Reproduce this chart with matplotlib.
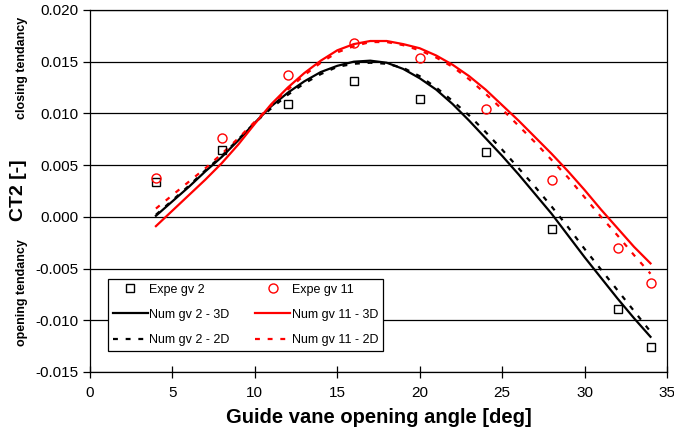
import numpy as np
import matplotlib
matplotlib.use("Agg")
import matplotlib.pyplot as plt

plt.rcParams['font.family'] = ['Liberation Sans', 'DejaVu Sans']

# experimental points
expe_x = [4, 8, 12, 16, 20, 24, 28, 32, 34]
expe_gv2 = [0.0034, 0.0065, 0.0109, 0.0131, 0.0114, 0.0063, -0.0012, -0.0089, -0.0126]
expe_gv11 = [0.0038, 0.0076, 0.0137, 0.0168, 0.0154, 0.0104, 0.0036, -0.0030, -0.0064]

# numerical curves
num_x = [4, 5, 6, 7, 8, 9, 10, 11, 12, 13, 14, 15, 16, 17, 18, 19, 20,
         21, 22, 23, 24, 25, 26, 27, 28, 29, 30, 31, 32, 33, 34]
num_gv2_3d = [0.0001, 0.0015, 0.0029, 0.0044, 0.0058, 0.0074, 0.0091, 0.0107,
              0.0120, 0.0131, 0.0140, 0.0146, 0.0150, 0.0151, 0.0149, 0.0143,
              0.0134, 0.0123, 0.0109, 0.0093, 0.0076, 0.0059, 0.0041, 0.0022,
              0.0003, -0.0018, -0.0039, -0.0059, -0.0079, -0.0098, -0.0116]
num_gv2_2d = [0.0002, 0.0016, 0.0030, 0.0045, 0.0059, 0.0075, 0.0091, 0.0105,
              0.0118, 0.0129, 0.0138, 0.0145, 0.0148, 0.0149, 0.0148, 0.0144,
              0.0136, 0.0125, 0.0112, 0.0098, 0.0082, 0.0065, 0.0047, 0.0029,
              0.0010, -0.0010, -0.0031, -0.0051, -0.0071, -0.0091, -0.0111]
num_gv11_3d = [-0.0009, 0.0006, 0.0021, 0.0036, 0.0052, 0.0070, 0.0090, 0.0109,
               0.0125, 0.0139, 0.0151, 0.0161, 0.0167, 0.0170, 0.0170, 0.0167,
               0.0163, 0.0156, 0.0147, 0.0136, 0.0123, 0.0108, 0.0093, 0.0077,
               0.0061, 0.0044, 0.0026, 0.0007, -0.0011, -0.0029, -0.0045]
num_gv11_2d = [0.0008, 0.0021, 0.0034, 0.0047, 0.0061, 0.0076, 0.0092, 0.0108,
               0.0123, 0.0137, 0.0149, 0.0159, 0.0165, 0.0169, 0.0169, 0.0166,
               0.0161, 0.0154, 0.0145, 0.0133, 0.0119, 0.0104, 0.0088, 0.0072,
               0.0055, 0.0038, 0.0019, 0.0000, -0.0018, -0.0037, -0.0055]

fig = plt.figure(figsize=(6.74, 4.34), dpi=100)
ax = fig.add_axes([0.1335, 0.1429, 0.8561, 0.8341])

for yv in np.arange(-0.015, 0.0201, 0.005):
    ax.axhline(yv, color='black', lw=0.9, zorder=1)

dash = (2.2, 3.5)
ax.plot(expe_x, expe_gv2, ls='none', marker='s', ms=6, mfc='none', mec='black',
        mew=1.0, label='Expe gv 2', zorder=4)
ax.plot(num_x, num_gv2_3d, color='black', lw=1.6, label='Num gv 2 - 3D', zorder=3)
ax.plot(num_x, num_gv2_2d, color='black', lw=1.6, dashes=dash,
        label='Num gv 2 - 2D', zorder=3)
ax.plot(expe_x, expe_gv11, ls='none', marker='o', ms=6.5, mfc='none', mec='red',
        mew=1.0, label='Expe gv 11', zorder=4)
ax.plot(num_x, num_gv11_3d, color='red', lw=1.6, label='Num gv 11 - 3D', zorder=3)
ax.plot(num_x, num_gv11_2d, color='red', lw=1.6, dashes=dash,
        label='Num gv 11 - 2D', zorder=3)

ax.set_xlim(0, 35)
ax.set_ylim(-0.015, 0.020)
ax.set_xticks(range(0, 36, 5))
ax.set_yticks(np.arange(-0.015, 0.0201, 0.005))
ax.yaxis.set_major_formatter(matplotlib.ticker.FormatStrFormatter('%.3f'))
ax.tick_params(axis='both', labelsize=11, color='black', length=5, width=0.9)
ax.tick_params(axis='x', direction='inout', length=8, pad=6)
for s in ax.spines.values():
    s.set_linewidth(0.9)

ax.set_xlabel('Guide vane opening angle [deg]', fontsize=14.5, fontweight='bold')
ax.xaxis.label.set_va('center')
ax.xaxis.set_label_coords(0.5, -0.127)
fig.text(0.027, 0.562, 'CT2 [-]', rotation=90, fontsize=14, fontweight='bold',
         ha='center', va='center')
fig.text(0.033, 0.843, 'closing tendancy', rotation=90, fontsize=9,
         fontweight='bold', ha='center', va='center')
fig.text(0.033, 0.327, 'opening tendancy', rotation=90, fontsize=9,
         fontweight='bold', ha='center', va='center')

leg = ax.legend(ncol=2, loc='lower left', bbox_to_anchor=(0.031, 0.058, 0.477, 0.26),
                mode='expand', borderaxespad=0, fontsize=9, fancybox=False,
                framealpha=1, edgecolor='black', handlelength=2.8,
                handletextpad=0.1, labelspacing=1.05, columnspacing=0.8)
leg.get_frame().set_linewidth(0.9)
leg.set_zorder(5)

fig.savefig('out.png', dpi=100)
